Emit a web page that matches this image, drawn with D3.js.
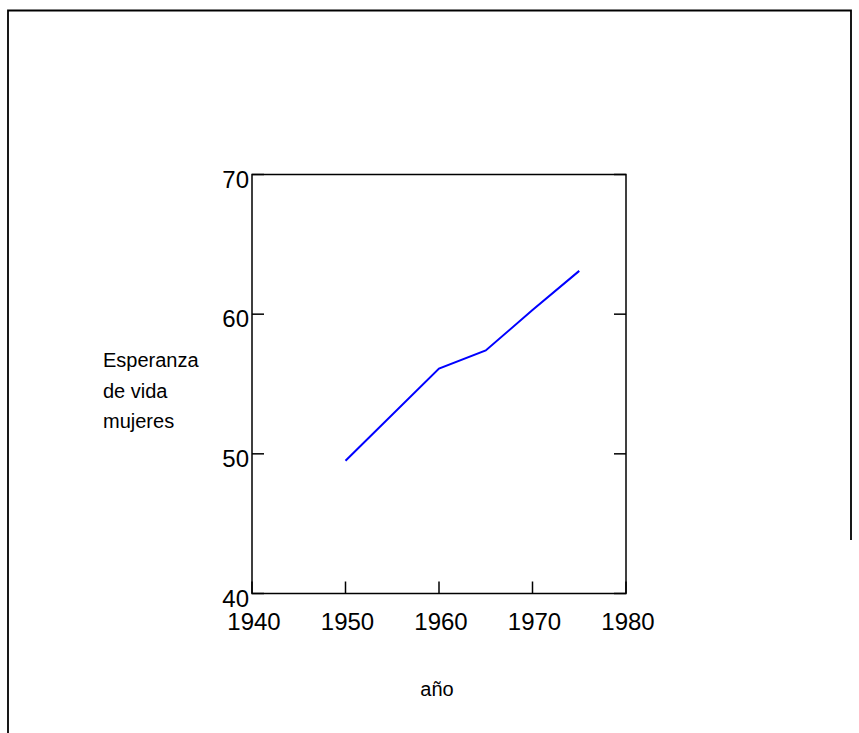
<!DOCTYPE html>
<html>
<head>
<meta charset="utf-8">
<script src="https://cdn.jsdelivr.net/npm/d3@7"></script>
<style>
  body { margin: 0; background: #fff; }
  svg text { font-family: "Liberation Sans", Arial, sans-serif; fill: #000; }
</style>
</head>
<body>
<div class="chart"></div>
<script>
// data
const years = [1950, 1960, 1965, 1970, 1975];
const lifeExp = [49.5, 56.1, 57.4, 60.3, 63.1];
const xTicks = [1940, 1950, 1960, 1970, 1980];
const yTicks = [40, 50, 60, 70];
const yLabelLines = ["Esperanza", "de vida", "mujeres"];
const xLabel = "año";

const width = 859, height = 733;
const margin = { top: 174.5, left: 252, right: 233, bottom: 139.5 };
const plotW = width - margin.left - margin.right;
const plotH = height - margin.top - margin.bottom;

const svg = d3.select(".chart").append("svg")
  .attr("width", width)
  .attr("height", height);

// outer page frame
svg.append("path")
  .attr("d", "M8,733 V10.5 H851 V540")
  .attr("fill", "none")
  .attr("stroke", "#000")
  .attr("stroke-width", 1.8);

const g = svg.append("g")
  .attr("transform", `translate(${margin.left},${margin.top})`);

const x = d3.scaleLinear().domain([1940, 1980]).range([0, plotW]);
const y = d3.scaleLinear().domain([40, 70]).range([plotH, 0]);

// ticks drawn inward on left, right and bottom
const tickLen = 12;
g.selectAll(".ytickL").data(yTicks).enter().append("line")
  .attr("x1", 0).attr("x2", tickLen)
  .attr("y1", d => y(d)).attr("y2", d => y(d))
  .attr("stroke", "#000").attr("stroke-width", 1.5);
g.selectAll(".ytickR").data(yTicks).enter().append("line")
  .attr("x1", plotW - tickLen).attr("x2", plotW)
  .attr("y1", d => y(d)).attr("y2", d => y(d))
  .attr("stroke", "#000").attr("stroke-width", 1.5);
g.selectAll(".xtick").data(xTicks).enter().append("line")
  .attr("x1", d => x(d)).attr("x2", d => x(d))
  .attr("y1", plotH).attr("y2", plotH - tickLen)
  .attr("stroke", "#000").attr("stroke-width", 1.5);

// frame
g.append("rect")
  .attr("width", plotW).attr("height", plotH)
  .attr("fill", "none")
  .attr("stroke", "#000")
  .attr("stroke-width", 1.5);

// tick labels
g.selectAll(".ylab").data(yTicks).enter().append("text")
  .attr("x", -3)
  .attr("y", d => y(d) + 13)
  .attr("text-anchor", "end")
  .style("font-size", "24px")
  .text(d => d);
g.selectAll(".xlab").data(xTicks).enter().append("text")
  .attr("x", d => x(d) + 2)
  .attr("y", plotH + 36)
  .attr("text-anchor", "middle")
  .style("font-size", "24px")
  .text(d => d);

// series line
const line = d3.line()
  .x((d, i) => x(years[i]))
  .y(d => y(d));
g.append("path")
  .datum(lifeExp)
  .attr("d", line)
  .attr("fill", "none")
  .attr("stroke", "#0000ff")
  .attr("stroke-width", 2);

// axis titles
svg.append("text")
  .attr("x", 103)
  .attr("y", 367)
  .style("font-size", "20px")
  .selectAll("tspan").data(yLabelLines).enter().append("tspan")
  .attr("x", 103)
  .attr("dy", (d, i) => i === 0 ? 0 : 30.5)
  .text(d => d);

svg.append("text")
  .attr("x", 437)
  .attr("y", 696)
  .attr("text-anchor", "middle")
  .style("font-size", "20px")
  .text(xLabel);
</script>
</body>
</html>
